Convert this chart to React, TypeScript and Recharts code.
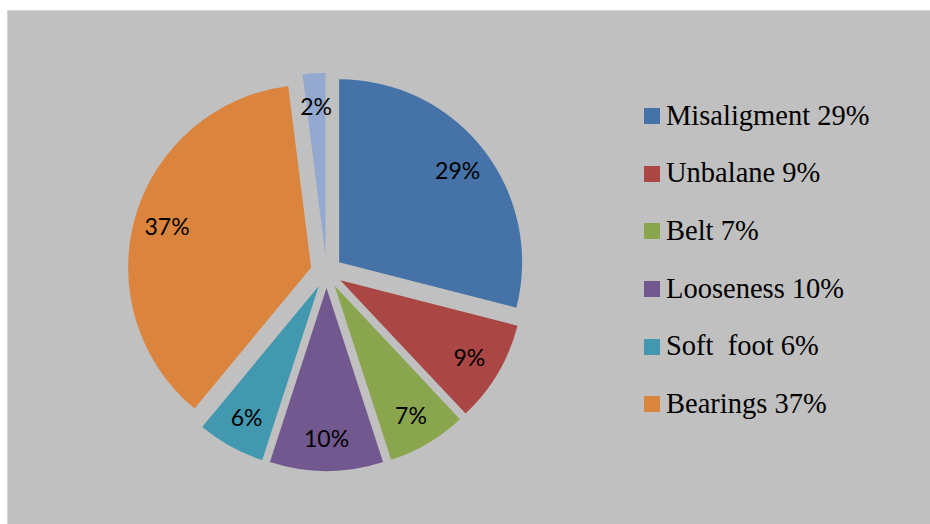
import React from "react";
import { Legend, Pie, PieChart, Sector } from "recharts";

const causes = ["Misaligment", "Unbalane", "Belt", "Looseness", "Soft  foot", "Bearings", ""];
const shares = [29, 9, 7, 10, 6, 37, 2];
const colors = ["#4572a7", "#aa4643", "#89a54e", "#71588f", "#4198af", "#db843d", "#93a9cf"];

const data = causes.map((name, i) => ({ name, share: shares[i] }));

const RADIAN = Math.PI / 180;
const EXPLODE = 16;
const LABEL_R = 150;

function ExplodedSlice(props: any) {
  const { cx, cy, midAngle, startAngle, endAngle, outerRadius, index, share } = props;
  const dx = Math.cos(-midAngle * RADIAN);
  const dy = Math.sin(-midAngle * RADIAN);
  const ox = cx + EXPLODE * dx;
  const oy = cy + EXPLODE * dy;
  return (
    <g>
      <Sector
        cx={ox}
        cy={oy}
        innerRadius={0}
        outerRadius={outerRadius}
        startAngle={startAngle}
        endAngle={endAngle}
        fill={colors[index]}
        stroke="none"
      />
      <text
        x={ox + LABEL_R * dx}
        y={oy + LABEL_R * dy}
        textAnchor="middle"
        dominantBaseline="central"
        fontFamily="Lato, 'Open Sans', sans-serif"
        fontSize={23}
        fill="#000"
      >
        {share}%
      </text>
    </g>
  );
}

// legend keeps the data order and skips the unnamed 2% slice
function LegendList(props: any) {
  const items = (props.payload || [])
    .filter((p: any) => p.value)
    .map((p: any) => ({ p, idx: causes.indexOf(p.value) }))
    .sort((a: any, b: any) => a.idx - b.idx);
  return (
    <div>
      {items.map(({ p, idx }: any) => (
        <div
          key={idx}
          style={{ display: "flex", alignItems: "center", height: 57.7 }}
        >
          <span
            style={{
              width: 16,
              height: 16,
              background: colors[idx],
              marginRight: 6,
              flexShrink: 0,
            }}
          />
          <span
            style={{
              fontFamily: "'Liberation Serif', 'Times New Roman', serif",
              fontSize: 28.5,
              lineHeight: 1,
              whiteSpace: "pre",
              color: "#000",
            }}
          >
            {p.value} {shares[idx]}%
          </span>
        </div>
      ))}
    </div>
  );
}

export default function App() {
  return (
    <div
      style={{
        position: "absolute",
        left: 0,
        top: 0,
        width: 930,
        height: 524,
        background: "#fff",
      }}
    >
      <div
        style={{
          position: "absolute",
          left: 7,
          top: 10,
          width: 923,
          height: 514,
          background: "#c0c0c0",
          borderTop: "1px solid #d4d4d4",
          borderLeft: "1px solid #d4d4d4",
          boxSizing: "border-box",
        }}
      >
        <PieChart width={922} height={513} margin={{ top: 0, right: 0, bottom: 0, left: 0 }}>
          <Pie
            data={data}
            dataKey="share"
            nameKey="name"
            cx={318.5}
            cy={261}
            outerRadius={183}
            startAngle={90}
            endAngle={-270}
            fill="transparent"
            stroke="none"
            labelLine={false}
            label={ExplodedSlice}
            isAnimationActive={false}
          />
          <Legend
            layout="vertical"
            align="right"
            verticalAlign="top"
            content={LegendList}
            wrapperStyle={{ left: 636, top: 76, right: "auto", width: 280 }}
          />
        </PieChart>
      </div>
    </div>
  );
}
